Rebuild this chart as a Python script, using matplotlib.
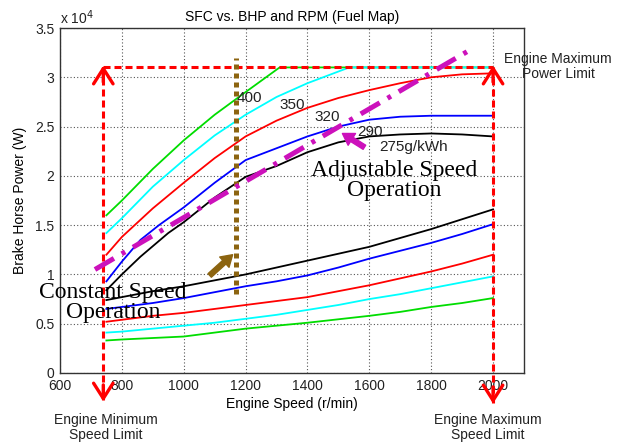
import matplotlib
matplotlib.use('Agg')
import matplotlib.pyplot as plt
from matplotlib.ticker import FuncFormatter

plt.rcParams['font.family'] = ['Liberation Sans', 'DejaVu Sans']

# fuel map curves, speed in r/min, power in W
# upper family (full load side)
rpm_green_hi = [750, 800, 900, 1000, 1100, 1200, 1310, 2000]
bhp_green_hi = [16000, 17500, 20700, 23600, 26200, 28500, 31000, 31000]

rpm_cyan_hi = [750, 800, 900, 1000, 1100, 1200, 1300, 1400, 1535, 2000]
bhp_cyan_hi = [14200, 15700, 18900, 21600, 24100, 26200, 28000, 29400, 31000, 31000]

rpm_red_hi = [750, 800, 900, 1000, 1100, 1200, 1300, 1400, 1500, 1600, 1700, 1800, 1900, 2000]
bhp_red_hi = [12000, 13800, 16700, 19300, 21800, 24000, 25600, 26900, 27900, 28700, 29400, 30000, 30300, 30400]

rpm_blue_hi = [750, 800, 860, 920, 1000, 1100, 1200, 1300, 1400, 1500, 1600, 1700, 1800, 2000]
bhp_blue_hi = [9300, 11300, 13500, 15000, 16800, 19300, 21600, 22800, 24000, 25000, 25700, 26000, 26100, 26100]

rpm_black_hi = [750, 800, 860, 950, 1000, 1100, 1200, 1300, 1400, 1500, 1600, 1700, 1800, 1900, 2000]
bhp_black_hi = [8400, 10000, 11800, 14200, 15300, 17800, 19900, 21000, 22400, 23400, 24000, 24200, 24300, 24200, 24000]

# lower family (part load side)
rpm_lo = [750, 800, 900, 1000, 1100, 1200, 1300, 1400, 1500, 1600, 1700, 1800, 1900, 2000]
bhp_black_lo = [7400, 7700, 8300, 8800, 9400, 10000, 10700, 11400, 12100, 12800, 13700, 14600, 15600, 16600]
bhp_blue_lo = [6500, 6700, 7100, 7600, 8200, 8800, 9300, 9900, 10700, 11600, 12400, 13200, 14100, 15100]
bhp_red_lo = [5200, 5400, 5800, 6100, 6500, 6900, 7300, 7700, 8300, 8900, 9600, 10300, 11100, 12000]
bhp_cyan_lo = [4100, 4200, 4500, 4800, 5100, 5500, 5900, 6400, 6900, 7500, 8000, 8600, 9200, 9800]
bhp_green_lo = [3300, 3400, 3550, 3700, 4100, 4500, 4800, 5100, 5450, 5800, 6200, 6700, 7100, 7600]

# sfc contour labels (g/kWh)
sfc_labels = ['400', '350', '320', '290', '275g/kWh']
sfc_rpm = [1171, 1310, 1423, 1561, 1632]
sfc_bhp = [27900, 27200, 26000, 24500, 22900]

# operating limits
min_speed = 740
max_speed = 2000
max_power = 31000

# operating strategy lines
const_speed = 1170
const_bhp = [8000, 32000]
adj_rpm = [713, 1916]
adj_bhp = [10500, 32600]

fig = plt.figure(figsize=(6.29, 4.43), dpi=100)
ax = fig.add_axes([60 / 629, 70 / 443, 464 / 629, 345 / 443])

lw = 1.3
ax.plot(rpm_green_hi, bhp_green_hi, color='#00dd00', lw=lw)
ax.plot(rpm_cyan_hi, bhp_cyan_hi, color='#00ffff', lw=lw)
ax.plot(rpm_red_hi, bhp_red_hi, color='red', lw=lw)
ax.plot(rpm_blue_hi, bhp_blue_hi, color='blue', lw=lw)
ax.plot(rpm_black_hi, bhp_black_hi, color='black', lw=lw)

ax.plot(rpm_lo, bhp_black_lo, color='black', lw=lw)
ax.plot(rpm_lo, bhp_blue_lo, color='blue', lw=lw)
ax.plot(rpm_lo, bhp_red_lo, color='red', lw=lw)
ax.plot(rpm_lo, bhp_cyan_lo, color='#00ffff', lw=lw)
ax.plot(rpm_lo, bhp_green_lo, color='#00dd00', lw=lw)

for lab, x, y in zip(sfc_labels, sfc_rpm, sfc_bhp):
    ax.text(x, y, lab, fontsize=11, ha='left', va='center', color='#222222')

ax.set_xlim(600, 2100)
ax.set_ylim(0, 35000)
ax.set_xticks(range(600, 2001, 200))
ax.set_yticks(range(0, 35001, 5000))
ax.yaxis.set_major_formatter(FuncFormatter(lambda v, p: '%g' % (v / 1e4)))
ax.tick_params(length=0, labelsize=10, colors='#222222', pad=4)
ax.grid(True, linestyle=(0, (1, 2)), color='#555555', lw=0.8)
for s in ax.spines.values():
    s.set_color('#333333')
    s.set_linewidth(1.0)

ax.set_title('SFC vs. BHP and RPM (Fuel Map)', fontsize=10, pad=5)
ax.set_xlabel('Engine Speed (r/min)', fontsize=10)
ax.xaxis.set_label_coords(0.5, -0.07)
ax.set_ylabel('Brake Horse Power (W)', fontsize=10)
ax.yaxis.set_label_coords(-0.071, 0.5)
ax.text(0, 1.03, 'x 10$^4$', transform=ax.transAxes, fontsize=10,
        ha='left', va='center', color='#222222')

# red dashed limit box, drawn outside the axes too
red_dash = dict(color='red', lw=2.2, linestyle=(0, (2.3, 1.3)), clip_on=False)
ax.plot([min_speed, max_speed], [max_power, max_power], **red_dash)
ax.plot([min_speed, min_speed], [max_power, -2700], **red_dash)
ax.plot([max_speed, max_speed], [max_power, -3000], **red_dash)

head = dict(arrowstyle='->,head_length=0.55,head_width=0.35', color='red',
            lw=2.4, shrinkA=0, shrinkB=0, mutation_scale=20)
ax.annotate('', xy=(min_speed, max_power + 200), xytext=(0, -12),
            textcoords='offset points', arrowprops=head, annotation_clip=False)
ax.annotate('', xy=(max_speed, max_power + 200), xytext=(0, -12),
            textcoords='offset points', arrowprops=head, annotation_clip=False)
ax.annotate('', xy=(min_speed, -2900), xytext=(0, 12),
            textcoords='offset points', arrowprops=head, annotation_clip=False)
ax.annotate('', xy=(max_speed, -3100), xytext=(0, 12),
            textcoords='offset points', arrowprops=head, annotation_clip=False)

# constant speed (brown dotted) and adjustable speed (magenta dash-dot)
ax.plot([const_speed, const_speed], const_bhp, color='#8c6410', lw=3.6,
        linestyle=(0, (1, 0.8)), solid_capstyle='butt', dash_capstyle='butt', clip_on=False)
ax.plot(adj_rpm, adj_bhp, color='#cc11bb', lw=3.6,
        linestyle=(0, (4.4, 1.8, 0.8, 1.8)), dash_capstyle='butt', clip_on=False)

ax.annotate('', xy=(1158, 12000), xytext=(1084, 9900),
            arrowprops=dict(facecolor='#8c6410', edgecolor='#8c6410',
                            width=3.5, headwidth=10, headlength=8, shrink=0))
ax.annotate('', xy=(1513, 24300), xytext=(1584, 22900),
            arrowprops=dict(facecolor='#cc11bb', edgecolor='#cc11bb',
                            width=3.5, headwidth=10, headlength=8, shrink=0))

serif = ['Liberation Serif', 'DejaVu Serif']
ax.text(1680, 19500, 'Adjustable Speed\nOperation', family=serif, fontsize=17,
        ha='center', va='center', linespacing=0.95)
ax.text(771, 7150, 'Constant Speed\nOperation', family=serif, fontsize=17,
        ha='center', va='center', linespacing=0.95, clip_on=False)

ax.text(2210, 31100, 'Engine Maximum\nPower Limit', fontsize=10, ha='center',
        va='center', linespacing=1.1, color='#222222')
ax.text(748, -5530, 'Engine Minimum\nSpeed Limit', fontsize=10, ha='center',
        va='center', linespacing=1.1, color='#222222')
ax.text(1984, -5530, 'Engine Maximum\nSpeed Limit', fontsize=10, ha='center',
        va='center', linespacing=1.1, color='#222222')

fig.savefig('out.png', dpi=100)
